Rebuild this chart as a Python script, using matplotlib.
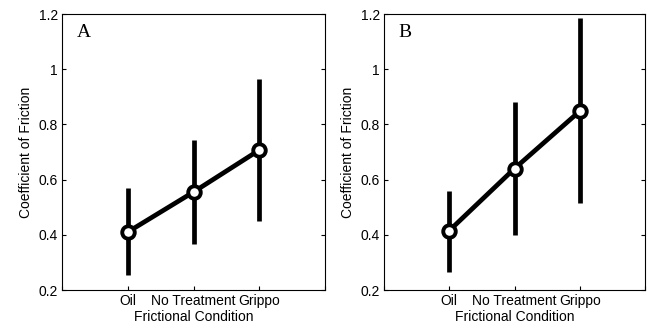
import numpy as np
import matplotlib
matplotlib.use('Agg')
import matplotlib.pyplot as plt

#data
conditions = ['Oil', 'No Treatment', 'Grippo']
mean_a = [0.41, 0.555, 0.707]
low_a = [0.255, 0.365, 0.45]
high_a = [0.57, 0.745, 0.965]
mean_b = [0.415, 0.64, 0.848]
low_b = [0.265, 0.40, 0.515]
high_b = [0.56, 0.88, 1.185]

plt.rcParams['font.family'] = ['Liberation Sans', 'DejaVu Sans']

fig = plt.figure(figsize=(6.57, 3.28), dpi=100)
ax_a = fig.add_axes([62/657, 1-290/328, 263/657, 276/328])
ax_b = fig.add_axes([384/657, 1-290/328, 261/657, 276/328])

def panel(ax, mean, low, high, letter):
    x = np.arange(1, len(conditions)+1)
    mean = np.array(mean)
    err = [mean - np.array(low), np.array(high) - mean]
    ax.errorbar(x, mean, yerr=err, fmt='none', ecolor='black', elinewidth=3.4, capsize=0)
    ax.plot(x, mean, color='black', lw=3.4, marker='o', ms=9, mfc='white',
            mec='black', mew=2.8, zorder=3)
    ax.set_xlim(0, 4)
    ax.set_ylim(0.2, 1.2)
    ax.set_xticks([0, 1, 2, 3, 4])
    ax.set_xticklabels([''] + conditions + [''])
    ax.set_yticks([0.2, 0.4, 0.6, 0.8, 1.0, 1.2])
    ax.set_yticklabels(['0.2', '0.4', '0.6', '0.8', '1', '1.2'])
    ax.tick_params(direction='in', labelsize=10, length=3, width=0.8,
                   right=True, top=False, pad=3)
    for s in ax.spines.values():
        s.set_linewidth(0.8)
    ax.set_xlabel('Frictional Condition', fontsize=10, labelpad=1)
    ax.set_ylabel('Coefficient of Friction', fontsize=10, labelpad=4)
    ax.text(0.055, 0.965, letter, transform=ax.transAxes, ha='left', va='top',
            fontsize=14, family=['Liberation Serif'])

panel(ax_a, mean_a, low_a, high_a, 'A')
panel(ax_b, mean_b, low_b, high_b, 'B')

fig.savefig('out.png', dpi=100)
